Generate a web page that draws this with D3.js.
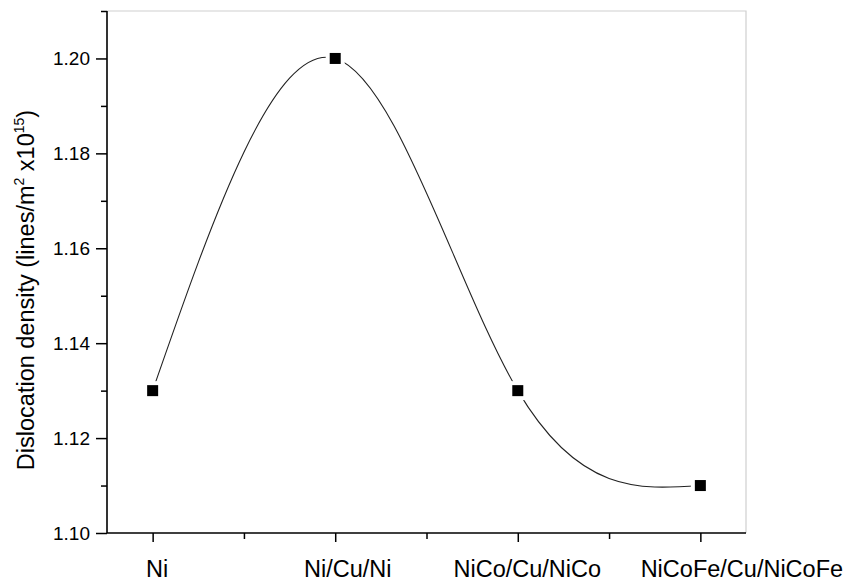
<!DOCTYPE html>
<html>
<head>
<meta charset="utf-8">
<script src="https://cdn.jsdelivr.net/npm/d3@7"></script>
<style>
  body { margin: 0; background: #fff; }
  text { font-family: "Liberation Sans", Arial, sans-serif; fill: #000; }
</style>
</head>
<body>
<div id="chart"></div>
<script>
const width = 852;
const height = 585;

// data
const samples = ["Ni", "Ni/Cu/Ni", "NiCo/Cu/NiCo", "NiCoFe/Cu/NiCoFe"];
const density = [1.13, 1.20, 1.13, 1.11];
const yMajor = [1.10, 1.12, 1.14, 1.16, 1.18, 1.20];
const yMinor = [1.11, 1.13, 1.15, 1.17, 1.19, 1.21];
const xMinor = [0.5, 1.5, 2.5];

// the category labels sit a little right of their ticks in the original
const labelNudge = [4, 12, 9, 41];

const margin = { top: 11, right: 106, bottom: 52, left: 107 };
const iw = width - margin.left - margin.right;
const ih = height - margin.top - margin.bottom;

const svg = d3.select("#chart")
  .append("svg")
  .attr("width", width)
  .attr("height", height);

const g = svg.append("g")
  .attr("transform", `translate(${margin.left},${margin.top})`);

const x = d3.scaleLinear().domain([-0.25, 3.25]).range([0, iw]);
const y = d3.scaleLinear().domain([1.10, 1.21]).range([ih, 0]);

// light frame on top and right
g.append("path")
  .attr("d", `M0,0H${iw}V${ih}`)
  .attr("fill", "none")
  .attr("stroke", "#cfcfcf")
  .attr("stroke-width", 1.2);

// minor ticks
g.append("g")
  .call(d3.axisLeft(y).tickValues(yMinor).tickSize(6).tickFormat(""))
  .call(a => a.select(".domain").remove());
g.append("g")
  .attr("transform", `translate(0,${ih})`)
  .call(d3.axisBottom(x).tickValues(xMinor).tickSize(6).tickFormat(""))
  .call(a => a.select(".domain").remove());

// major ticks + labels
const yAxis = g.append("g")
  .call(d3.axisLeft(y).tickValues(yMajor).tickSize(11).tickPadding(6)
    .tickFormat(d3.format(".2f")))
  .call(a => a.select(".domain").remove());
yAxis.selectAll("text")
  .style("font-size", "19px");

const xAxis = g.append("g")
  .attr("transform", `translate(0,${ih})`)
  .call(d3.axisBottom(x).tickValues(d3.range(samples.length)).tickSize(9)
    .tickFormat(i => samples[i]))
  .call(a => a.select(".domain").remove());
xAxis.selectAll("text")
  .attr("y", 0)
  .attr("dy", 0)
  .attr("transform", (d, i) => `translate(${labelNudge[i]},44)`)
  .style("font-size", "23.5px");

svg.selectAll(".tick line")
  .attr("stroke", "#000")
  .attr("stroke-width", 1.5);

// axis lines
g.append("path")
  .attr("d", `M0,0V${ih}H${iw}`)
  .attr("fill", "none")
  .attr("stroke", "#000")
  .attr("stroke-width", 1.6);

// y title
svg.append("text")
  .attr("transform", `translate(34,290) rotate(-90)`)
  .attr("text-anchor", "middle")
  .style("font-size", "23.5px")
  .call(t => {
    t.append("tspan").text("Dislocation density (lines/m");
    t.append("tspan").attr("dy", -10).style("font-size", "14px").text("2");
    t.append("tspan").attr("dy", 10).text(" x10");
    t.append("tspan").attr("dy", -10).style("font-size", "14px").text("15");
    t.append("tspan").attr("dy", 10).text(")");
  });

// spline through points
const line = d3.line()
  .x((d, i) => x(i))
  .y(d => y(d))
  .curve(d3.curveNatural);

g.append("path")
  .datum(density)
  .attr("d", line)
  .attr("fill", "none")
  .attr("stroke", "#222")
  .attr("stroke-width", 1.1);

// markers, with a white gap around them
const s = 11;
g.append("g")
  .selectAll("rect")
  .data(density)
  .join("rect")
  .attr("x", (d, i) => x(i) - s / 2 - 4)
  .attr("y", d => y(d) - s / 2 - 4)
  .attr("width", s + 8)
  .attr("height", s + 8)
  .attr("fill", "#fff");

g.append("g")
  .selectAll("rect")
  .data(density)
  .join("rect")
  .attr("x", (d, i) => x(i) - s / 2)
  .attr("y", d => y(d) - s / 2)
  .attr("width", s)
  .attr("height", s)
  .attr("fill", "#000");
</script>
</body>
</html>
